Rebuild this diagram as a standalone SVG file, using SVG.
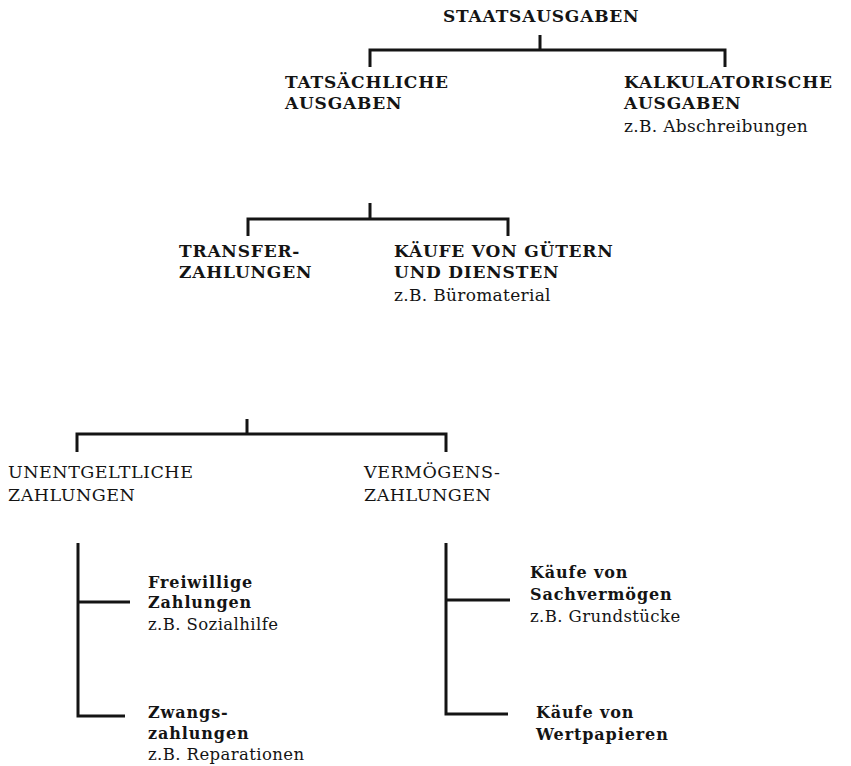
<svg xmlns="http://www.w3.org/2000/svg" width="851" height="766" viewBox="0 0 851 766">
<style>
text{font-family:"DejaVu Serif","Liberation Serif",serif;fill:#141414}
.h{font-weight:bold;font-size:17px;letter-spacing:0.8px}
.hr{font-weight:normal;font-size:17.5px;letter-spacing:0.5px}
.e{font-weight:normal;font-size:17px;letter-spacing:0.3px}
.b{font-weight:bold;font-size:16px;letter-spacing:0.9px}
.r{font-weight:normal;font-size:16.5px;letter-spacing:0.4px}
.c{fill:none;stroke:#141414;stroke-width:3;stroke-linecap:butt;stroke-linejoin:miter}
</style>
<rect width="851" height="766" fill="#fff"/>
<g id="connectors">
<path class="c" d="M540 35V50M370 67V50H725V67"/>
<path class="c" d="M370 203V219M248 236V219H508V236"/>
<path class="c" d="M247 419V434M77 452V434H446V452"/>
<path class="c" d="M78 543V716H125M78 602H130"/>
<path class="c" d="M446 543V714H508M446 600H510"/>
</g>
<g id="staatsausgaben"><text class="h" x="443" y="22">STAATSAUSGABEN</text></g>
<g id="tatsaechliche"><text class="h" x="285" y="88">TATSÄCHLICHE</text><text class="h" x="285" y="109">AUSGABEN</text></g>
<g id="kalkulatorische"><text class="h" x="624" y="88">KALKULATORISCHE</text><text class="h" x="624" y="109">AUSGABEN</text><text class="e" x="624" y="132">z.B. Abschreibungen</text></g>
<g id="transfer"><text class="h" x="179" y="257">TRANSFER-</text><text class="h" x="179" y="278">ZAHLUNGEN</text></g>
<g id="kaeufe-gueter"><text class="h" x="394" y="257">KÄUFE VON GÜTERN</text><text class="h" x="394" y="278">UND DIENSTEN</text><text class="e" x="394" y="301">z.B. Büromaterial</text></g>
<g id="unentgeltliche"><text class="hr" x="8" y="478">UNENTGELTLICHE</text><text class="hr" x="8" y="501">ZAHLUNGEN</text></g>
<g id="vermoegens"><text class="hr" x="364" y="478">VERMÖGENS-</text><text class="hr" x="364" y="501">ZAHLUNGEN</text></g>
<g id="freiwillige"><text class="b" x="148" y="588">Freiwillige</text><text class="b" x="148" y="608">Zahlungen</text><text class="r" x="148" y="630">z.B. Sozialhilfe</text></g>
<g id="zwangs"><text class="b" x="148" y="718">Zwangs-</text><text class="b" x="148" y="739">zahlungen</text><text class="r" x="148" y="760">z.B. Reparationen</text></g>
<g id="sachvermoegen"><text class="b" x="530" y="578">Käufe von</text><text class="b" x="530" y="600">Sachvermögen</text><text class="r" x="530" y="622">z.B. Grundstücke</text></g>
<g id="wertpapiere"><text class="b" x="536" y="718">Käufe von</text><text class="b" x="536" y="740">Wertpapieren</text></g>
</svg>
